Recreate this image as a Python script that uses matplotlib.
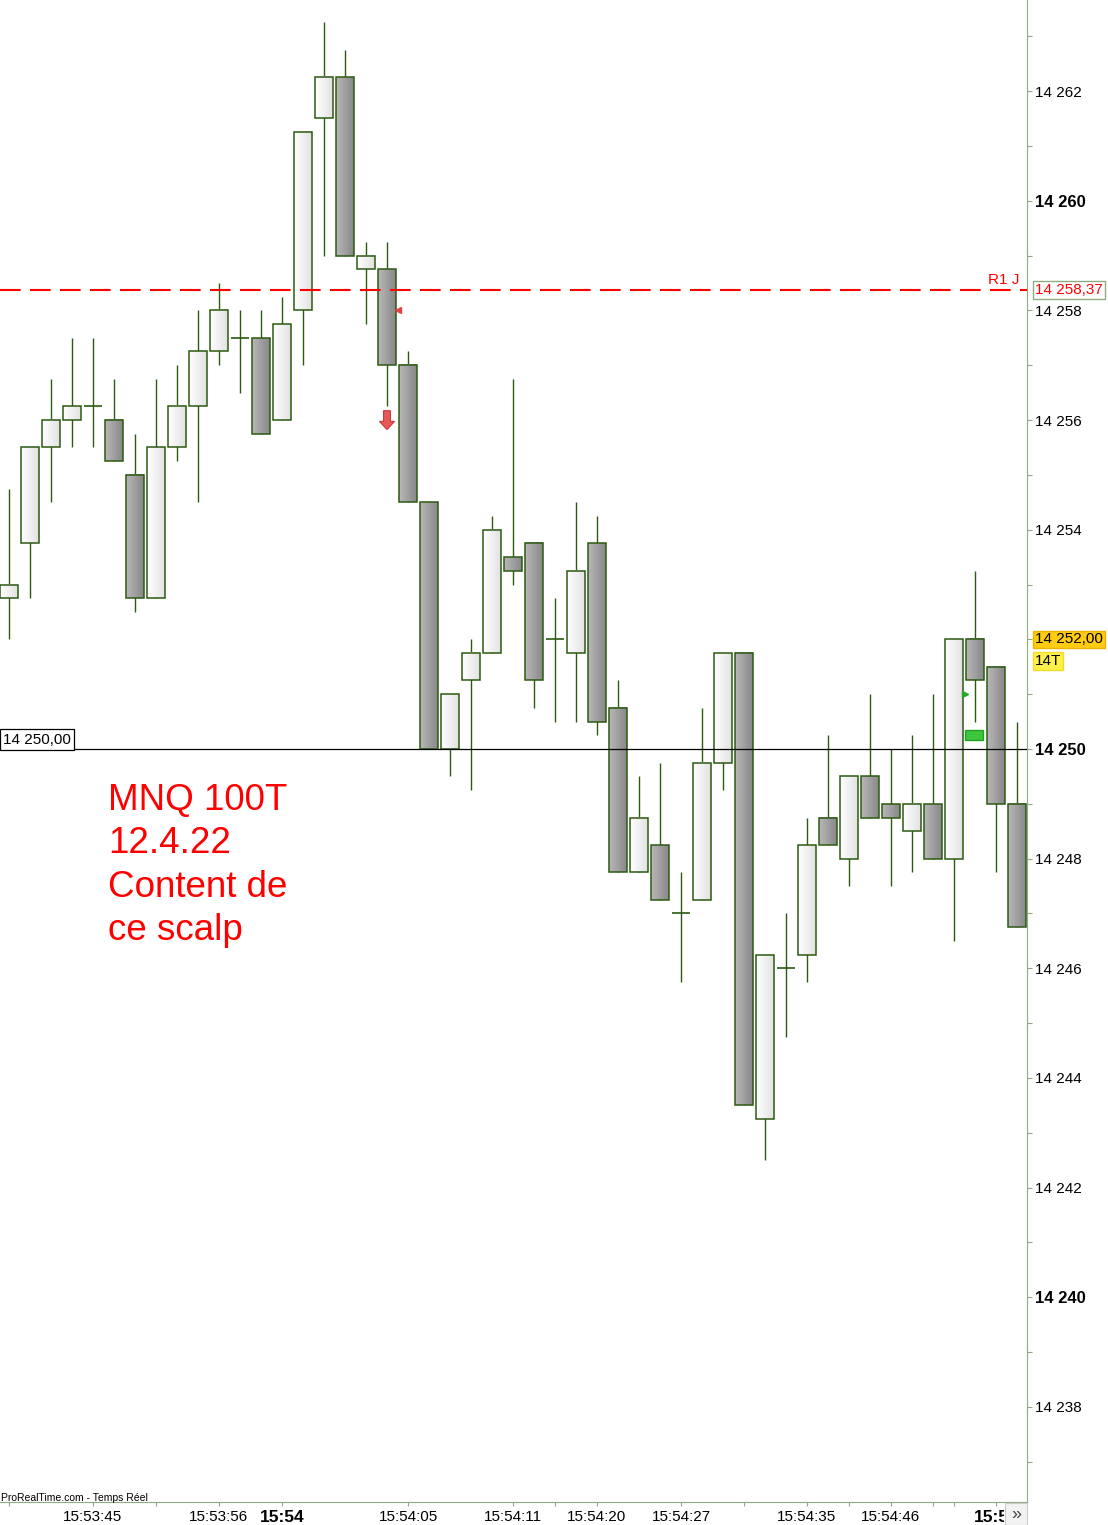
import numpy as np
import matplotlib
matplotlib.use("Agg")
import matplotlib.pyplot as plt
from matplotlib.colors import LinearSegmentedColormap
from matplotlib.patches import Rectangle, FancyArrow
from matplotlib.transforms import blended_transform_factory, Bbox

plt.rcParams['font.family'] = ['Liberation Sans', 'DejaVu Sans']

# MNQ 100 ticks candles, 12.4.22
opens = [14252.75, 14253.75, 14255.5, 14256.0, 14256.25, 14256.0, 14255.0, 14252.75, 14255.5, 14256.25,
         14257.25, 14257.5, 14257.5, 14256.0, 14258.0, 14261.5, 14262.25, 14258.75, 14258.75, 14257.0,
         14254.5, 14250.0, 14251.25, 14251.75, 14253.5, 14253.75, 14252.0, 14251.75, 14253.75, 14250.75,
         14247.75, 14248.25, 14247.0, 14247.25, 14249.75, 14251.75, 14243.25, 14246.0, 14246.25, 14248.75,
         14248.0, 14249.5, 14249.0, 14248.5, 14249.0, 14248.0, 14252.0, 14251.5, 14249.0]
highs = [14254.75, 14255.5, 14256.75, 14257.5, 14257.5, 14256.75, 14255.75, 14256.75, 14257.0, 14258.0,
         14258.5, 14258.0, 14258.0, 14258.25, 14261.25, 14263.25, 14262.75, 14259.25, 14259.25, 14257.25,
         14254.5, 14251.0, 14252.0, 14254.25, 14256.75, 14253.75, 14252.75, 14254.5, 14254.25, 14251.25,
         14249.5, 14249.75, 14247.75, 14250.75, 14251.75, 14251.75, 14246.25, 14247.0, 14248.75, 14250.25,
         14249.5, 14251.0, 14250.0, 14250.25, 14251.0, 14252.0, 14253.25, 14251.5, 14250.5]
lows = [14252.0, 14252.75, 14254.5, 14255.5, 14255.5, 14255.25, 14252.5, 14252.75, 14255.25, 14254.5,
        14257.0, 14256.5, 14255.75, 14256.0, 14257.0, 14259.0, 14259.0, 14257.75, 14256.25, 14254.5,
        14250.0, 14249.5, 14249.25, 14251.75, 14253.0, 14250.75, 14250.5, 14250.5, 14250.25, 14247.75,
        14247.75, 14247.25, 14245.75, 14247.25, 14249.25, 14243.5, 14242.5, 14244.75, 14245.75, 14248.25,
        14247.5, 14248.75, 14247.5, 14247.75, 14248.0, 14246.5, 14250.5, 14247.75, 14246.75]
closes = [14253.0, 14255.5, 14256.0, 14256.25, 14256.25, 14255.25, 14252.75, 14255.5, 14256.25, 14257.25,
          14258.0, 14257.5, 14255.75, 14257.75, 14261.25, 14262.25, 14259.0, 14259.0, 14257.0, 14254.5,
          14250.0, 14251.0, 14251.75, 14254.0, 14253.25, 14251.25, 14252.0, 14253.25, 14250.5, 14247.75,
          14248.75, 14247.25, 14247.0, 14249.75, 14251.75, 14243.5, 14246.25, 14246.0, 14248.25, 14248.25,
          14249.5, 14248.75, 14248.75, 14249.0, 14248.0, 14252.0, 14251.25, 14249.0, 14246.75]

# x axis: candle index -> time label
time_ticks = [0, 4, 7, 10, 13, 19, 24, 26, 28, 32, 35, 38, 40, 42, 44, 45, 47]
time_labels = {4: "15:53:45", 10: "15:53:56", 13: "15:54", 19: "15:54:05", 24: "15:54:11",
               28: "15:54:20", 32: "15:54:27", 38: "15:54:35", 42: "15:54:46", 47: "15:55"}
bold_times = [13, 47]

price_ticks = list(range(14237, 14264))
bold_prices = [14240, 14250, 14260]

r1_level = 14258.37
hline_level = 14250.00
last_price = 14252.00
sell_idx, sell_price = 18, 14256.17
sell_mark_price = 14258.0
buy_idx, buy_mark_price = 45, 14251.0
pos_idx, pos_price = 46, 14250.25

note_lines = ["MNQ 100T", "12.4.22", "Content de", "ce scalp"]

W, H = 1108, 1525
green = "#2b5a10"
axis_col = "#8fac80"
ppu = 54.833  # pixels per point

fig = plt.figure(figsize=(W / 100, H / 100), dpi=100)
ax = fig.add_axes([0, 23 / H, 1027 / W, 1502 / H])

white_cmap = LinearSegmentedColormap.from_list("w", ["#ffffff", "#e2e2e2"])
dark_cmap = LinearSegmentedColormap.from_list("d", ["#b8b8b8", "#888888"])
grad = np.linspace(0, 1, 32)[None, :]
bw = 0.82

n = len(opens)
x = np.arange(n)
ax.vlines(x, lows, highs, color=green, lw=1.0, zorder=1)
for i in range(n):
    o, c = opens[i], closes[i]
    lo, hi = min(o, c), max(o, c)
    if hi == lo:
        ax.hlines(o, i - bw / 2, i + bw / 2, color=green, lw=1.2, zorder=3)
        continue
    cmap = white_cmap if c > o else dark_cmap
    ax.imshow(grad, extent=[i - bw / 2, i + bw / 2, lo, hi], cmap=cmap, aspect="auto",
              interpolation="nearest", zorder=2)
    ax.add_patch(Rectangle((i - bw / 2, lo), bw, hi - lo, fill=False, ec=green, lw=1.1, zorder=3))

ax.set_xlim(-9 / 21, (1027 - 9) / 21)
ax.set_ylim(14250 - 753 / ppu, 14250 + 749 / ppu)

# lines
ax.axhline(r1_level, color="red", lw=1.5, dashes=(9.9, 4.5), zorder=4)
ax.axhline(hline_level, color="black", lw=0.9, zorder=4)

# signals
ax.add_patch(FancyArrow(sell_idx, sell_price, 0, -0.345, width=0.33, head_width=0.72,
                        head_length=0.15, length_includes_head=True,
                        fc="#e85858", ec="#c83a3a", lw=0.8, zorder=5))
ax.plot(sell_idx + 0.5, sell_mark_price, marker="<", ms=4.5, color="#e04444", zorder=5)
ax.plot(buy_idx + 0.5, buy_mark_price, marker=">", ms=4.5, color="#22aa22", zorder=5)
ax.add_patch(Rectangle((pos_idx - 0.5, pos_price - 0.09), 0.9, 0.18, fc="#3cc63c",
                       ec="#22a022", lw=1, zorder=5))

# axes style
for s in ["top", "left"]:
    ax.spines[s].set_visible(False)
ax.spines["right"].set_color(axis_col)
ax.spines["bottom"].set_color(axis_col)
ax.yaxis.tick_right()
ax.set_yticks(price_ticks)
ax.set_yticklabels([f"{p:,}".replace(",", " ") if p % 2 == 0 else "" for p in price_ticks])
ax.tick_params(axis="y", length=3.6, pad=2.5, colors=axis_col, labelcolor="black", labelsize=11)
for lab, p in zip(ax.get_yticklabels(), price_ticks):
    if p in bold_prices:
        lab.set_fontweight("bold")
        lab.set_fontsize(12)
ax.set_xticks(time_ticks)
ax.set_xticklabels([time_labels.get(t, "") for t in time_ticks])
ax.tick_params(axis="x", length=3, pad=2.5, colors=axis_col, labelcolor="black", labelsize=11)
clip = Bbox.from_extents(0, 0, 1004, H)
for lab, t in zip(ax.get_xticklabels(), time_ticks):
    if t in bold_times:
        lab.set_fontweight("bold")
        lab.set_fontsize(12.5)
    lab.set_clip_box(clip)
    lab.set_clip_on(True)

# price labels
tr = blended_transform_factory(ax.transAxes, ax.transData)
ax.text(0.003, hline_level + 0.04, "14 250,00", transform=tr, fontsize=11, va="bottom", ha="left",
        bbox=dict(boxstyle="square,pad=0.22", fc="white", ec="black", lw=0.9), zorder=6)
ax.text(988 / 1027, r1_level + 0.05, "R1 J", transform=tr, fontsize=11, color="red", va="bottom")
ax.text(1035 / 1027, r1_level, "14 258,37", transform=tr, fontsize=11, color="red", va="center",
        clip_on=False, bbox=dict(boxstyle="square,pad=0.12", fc="white", ec=axis_col, lw=1))
ax.text(1035 / 1027, last_price, "14 252,00", transform=tr, fontsize=11, va="center",
        clip_on=False, bbox=dict(boxstyle="square,pad=0.12", fc="#ffcc11", ec="#e8b400", lw=1))
ax.text(1035 / 1027, last_price - 0.40, "14T", transform=tr, fontsize=11, va="center",
        clip_on=False, bbox=dict(boxstyle="square,pad=0.12", fc="#fff04a", ec="#f0dc30", lw=1))

# note
for k, line in enumerate(note_lines):
    fig.text(108 / W, 1 - (810 + 43.4 * k) / H, line, fontsize=26.5, color="red", va="baseline")

fig.text(1 / W, 1 - 1501 / H, "ProRealTime.com - Temps Réel", fontsize=7.5, va="baseline")

# scroll button at the end of the time axis
fig.patches.append(Rectangle((1005 / W, 0), 22 / W, 22 / H, transform=fig.transFigure,
                             fc="#f2f2f2", ec="#cccccc", lw=0.8, zorder=10))
fig.text(1016 / W, 11 / H, "»", fontsize=13, color="#444444", ha="center", va="center", zorder=11)

fig.savefig("out.png", dpi=100)
